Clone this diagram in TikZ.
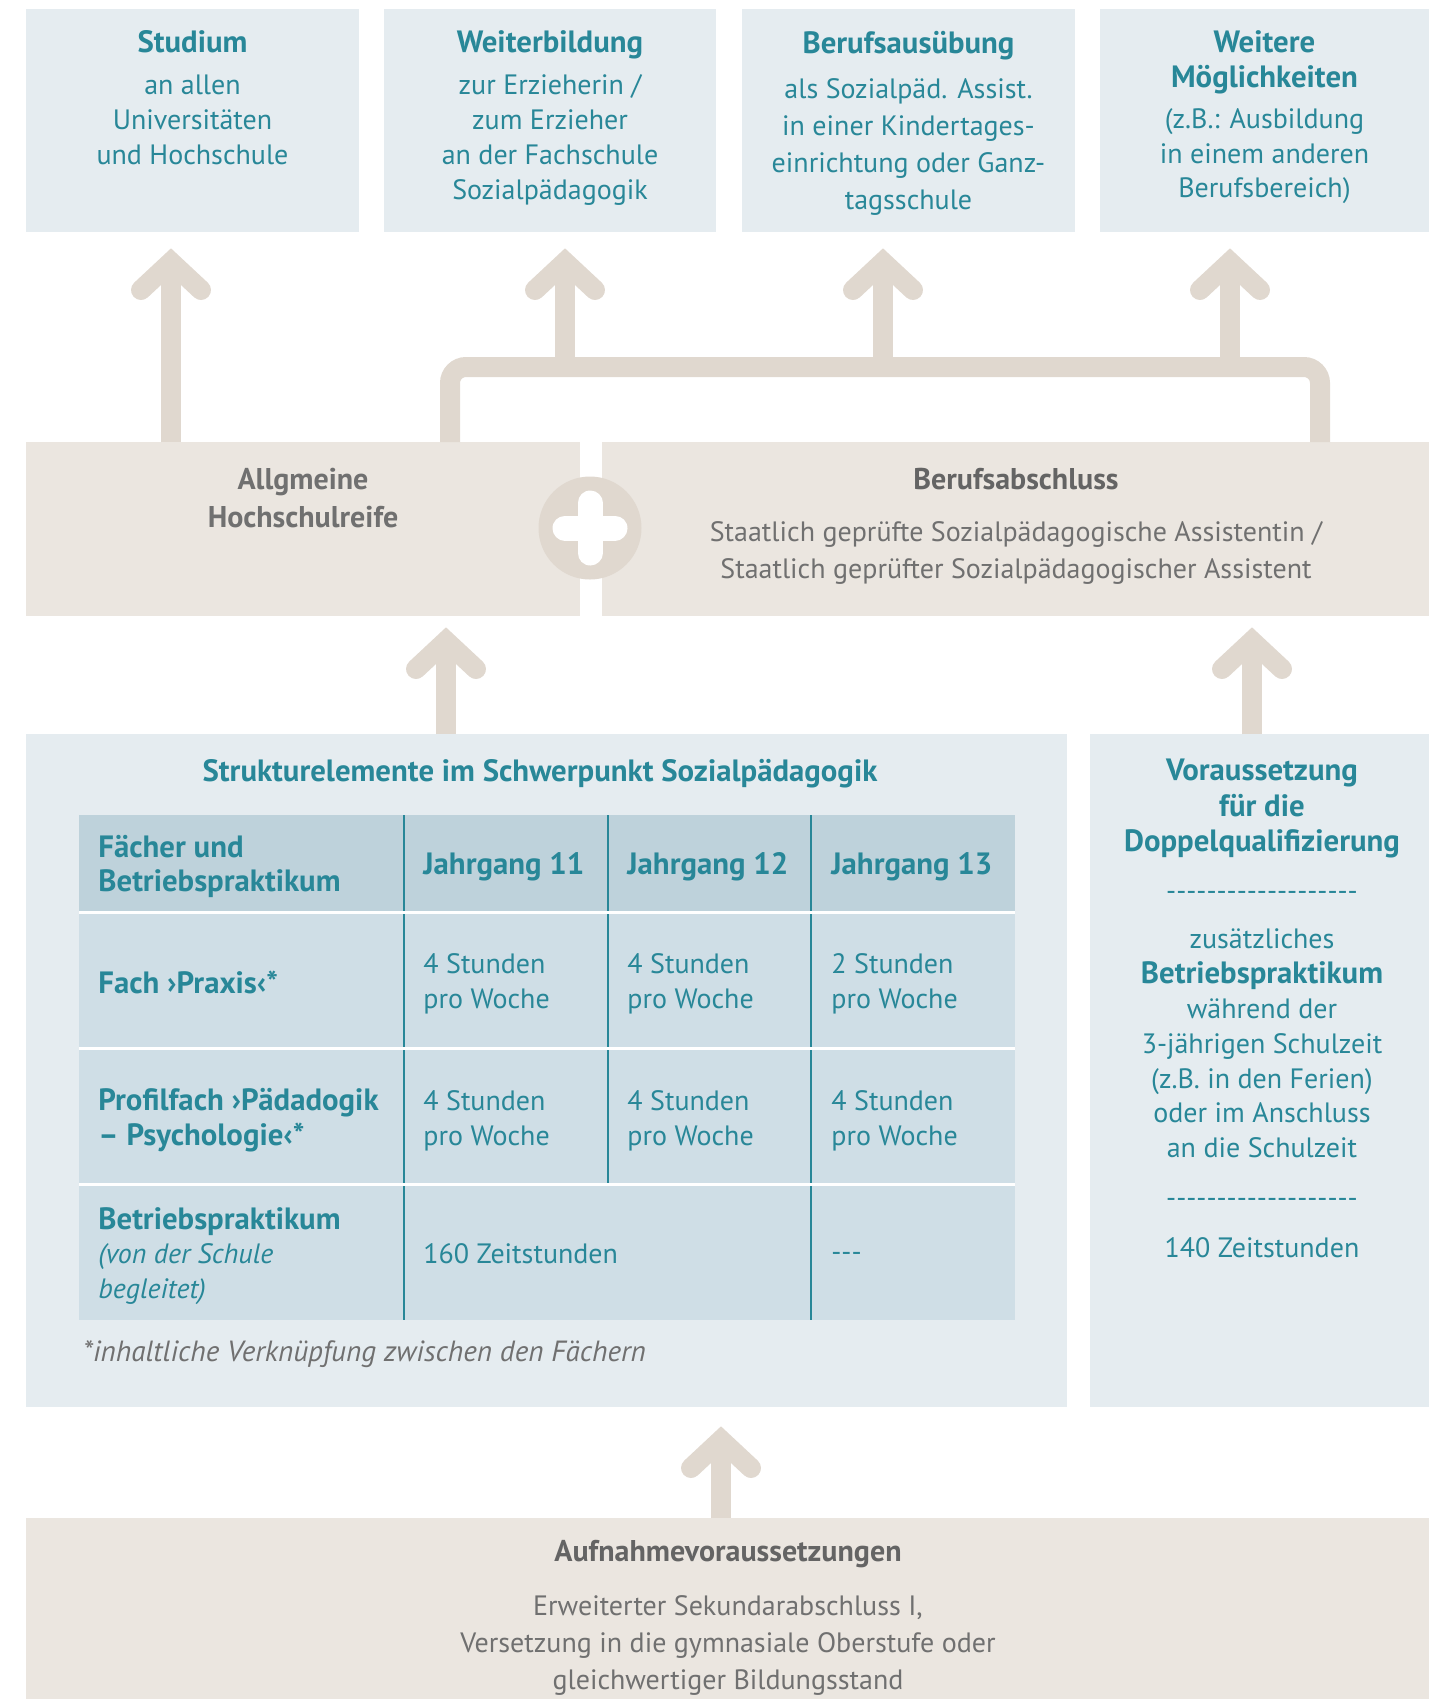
\documentclass[tikz,border=0pt]{standalone}
\usepackage{fontspec}
\setmainfont{PT Sans}
\usetikzlibrary{calc,arrows.meta,positioning,fit}

\definecolor{tealtx}{RGB}{40,135,152}
\definecolor{boxblue}{RGB}{229,236,240}
\definecolor{boxbeige}{RGB}{235,230,224}
\definecolor{arrowc}{RGB}{224,216,207}
\definecolor{headc}{RGB}{190,210,219}
\definecolor{cellc}{RGB}{207,222,230}
\definecolor{graytx}{RGB}{112,112,112}
\definecolor{graydk}{RGB}{100,100,100}

\newcommand{\setfs}[2]{\fontsize{#1}{#2}\selectfont}
\newcommand{\dashrow}[1]{\foreach \k in {1,...,#1}{-\kern0pt}}
\newcommand{\bigb}[1]{{\fontsize{15.4}{17.4}\selectfont\bfseries #1}}

\begin{document}
\begin{tikzpicture}[x=0.5pt,y=-0.5pt,
	bluebox/.style={rectangle,fill=boxblue,inner sep=0pt,outer sep=0pt},
	beigebox/.style={rectangle,fill=boxbeige,inner sep=0pt,outer sep=0pt},
	ttl/.style={text=tealtx,font=\setfs{15.4}{17.4}\bfseries,align=center,inner sep=0pt},
	txt/.style={text=tealtx,font=\setfs{14}{17.4},align=center,inner sep=0pt},
	grayttl/.style={text=graydk,font=\setfs{15}{19}\bfseries,align=center,inner sep=0pt},
	graytxt/.style={text=graytx,font=\setfs{14}{18.5},align=center,inner sep=0pt},
	cellt/.style={text=tealtx,anchor=west,align=left,inner sep=0pt,font=\setfs{14}{17.5}},
	cellb/.style={cellt,font=\setfs{15.4}{17}\bfseries},
	shaft/.style={arrowc,line width=10pt},
	chev/.pic={\draw[arrowc,line width=10pt,line cap=round,line join=miter] (-30,28) -- (0,0) -- (30,28);}]
	\useasboundingbox (0,0) rectangle (1429,1699);

	%%top row
	\node[bluebox,fit={(26,9)(359,232)}] (studium) {};
	\node[ttl] (studiumT) at (192.5,42) {Studium};
	\node[txt] (studiumB) at (192.5,120) {an allen\\Universitäten\\und Hochschule};

	\node[bluebox,fit={(384,9)(716,232)}] (weiter) {};
	\node[ttl] (weiterT) at (550,45.3) {Weiterbildung};
	\node[txt] (weiterB) at (550,139.8) {zur Erzieherin /\\zum Erzieher\\an der Fachschule\\Sozialpädagogik};

	\node[bluebox,fit={(742,9)(1075,232)}] (ausuebung) {};
	\node[ttl] (ausuebungT) at (908.5,45.3) {Berufsausübung};
	\node[txt,font=\setfs{14}{18.6}] (ausuebungB) at (908.5,146.8) {als Sozialpäd. Assist.\\in einer Kindertages-\\einrichtung oder Ganz-\\tagsschule};

	\node[bluebox,fit={(1100,9)(1429,232)}] (weitere) {};
	\node[ttl,font=\setfs{15.4}{17.5}\bfseries] (weitereT) at (1264.5,62.5) {Weitere\\Möglichkeiten};
	\node[txt] (weitereB) at (1264.5,156.2) {(z.B.: Ausbildung\\in einem anderen\\Berufsbereich)};

	%%middle row
	\node[beigebox,fit={(26,442)(580,616)}] (hsr) {};
	\node[grayttl,text=graytx] (hsrT) at (303,498) {Allgmeine\\Hochschulreife};

	\node[beigebox,fit={(602,442)(1429,616)}] (abschluss) {};
	\node[grayttl] (abschlussT) at (1016,479) {Berufsabschluss};
	\node[graytxt] (abschlussB) at (1016,553) {Staatlich geprüfte Sozialpädagogische Assistentin /\\Staatlich geprüfter Sozialpädagogischer Assistent};

	\node[circle,fill=arrowc,minimum size=51.5pt,inner sep=0pt] (plus) at (590,528) {};
	\draw[white,line width=12.5pt,line cap=round] ($(plus)+(-25,0)$) -- ($(plus)+(25,0)$) ($(plus)+(0,-25)$) -- ($(plus)+(0,25)$);

	%%connectors to the top row
	\coordinate (j1) at (171,367);
	\coordinate (j2) at (565,367);
	\coordinate (j3) at (883,367);
	\coordinate (j4) at (1230,367);
	\coordinate (bl) at (450,367);
	\coordinate (br) at (1320,367);
	\draw[shaft,rounded corners=8pt] (hsr.north -| bl) -- (bl) -- (br) -- (abschluss.north -| br);
	\coordinate (t1) at ($(studium.south -| j1)+(0,30)$);
	\coordinate (t2) at ($(weiter.south -| j2)+(0,30)$);
	\coordinate (t3) at ($(ausuebung.south -| j3)+(0,30)$);
	\coordinate (t4) at ($(weitere.south -| j4)+(0,30)$);
	\draw[shaft] (hsr.north -| j1) -- (t1);
	\draw[shaft] (j2) -- (t2);
	\draw[shaft] (j3) -- (t3);
	\draw[shaft] (j4) -- (t4);
	\foreach \t in {t1,t2,t3,t4} \pic at (\t) {chev};

	%%lower left box with table
	\node[bluebox,fit={(26,734)(1067,1407)}] (struktur) {};
	\node[ttl] (strukturT) at (540,773.3) {Strukturelemente im Schwerpunkt Sozialpädagogik};

	\fill[cellc] (79,815) rectangle (1015,1320);
	\fill[headc] (79,815) rectangle (1015,912);
	\draw[tealtx,line width=0.75pt] (404,815) -- (404,1320) (608,815) -- (608,1185) (811,815) -- (811,1320);
	\draw[white,line width=1.5pt] (79,912.5) -- (1015,912.5) (79,1048.5) -- (1015,1048.5) (79,1184.5) -- (1015,1184.5);

	\node[cellb] (h1) at (98,866) {Fächer und\\Betriebspraktikum};
	\node[cellb] (h2) at (423,867) {Jahrgang 11};
	\node[cellb] (h3) at (627,867) {Jahrgang 12};
	\node[cellb] (h4) at (831,867) {Jahrgang 13};

	\node[cellb] (r1a) at (98,982) {Fach ›Praxis‹*};
	\node[cellt] (r1b) at (423,984) {4 Stunden\\pro Woche};
	\node[cellt] (r1c) at (627,984) {4 Stunden\\pro Woche};
	\node[cellt] (r1d) at (831,984) {2 Stunden\\pro Woche};

	\node[cellb,font=\setfs{15.4}{17.5}\bfseries] (r2a) at (98,1120) {Profilfach ›Pädadogik\\– Psychologie‹*};
	\node[cellt] (r2b) at (423,1120.5) {4 Stunden\\pro Woche};
	\node[cellt] (r2c) at (627,1120.5) {4 Stunden\\pro Woche};
	\node[cellt] (r2d) at (831,1120.5) {4 Stunden\\pro Woche};

	\node[cellt,font=\setfs{14}{17.25}] (r3a) at (98,1256) {\bigb{Betriebspraktikum}\\{\itshape (von der Schule}\\{\itshape begleitet)}};
	\node[cellt] (r3b) at (423,1254) {160 Zeitstunden};
	\node[cellt] (r3d) at (831,1257) {\dashrow{3}};

	\node[anchor=west,inner sep=0pt,text=graytx,font=\setfs{14.6}{17}\itshape] (fn) at (83,1354) {*inhaltliche Verknüpfung zwischen den Fächern};

	%%lower right box
	\node[bluebox,fit={(1090,734)(1429,1407)}] (voraus) {};
	\node[ttl,font=\setfs{15.4}{17.75}\bfseries] (vorausT) at (1262,808.8) {Voraussetzung\\für die\\Doppelqualifizierung};
	\node[txt] (dash1) at (1262,896) {\dashrow{19}};
	\node[txt] (vorausB) at (1262,1043.5) {zusätzliches\\\bigb{Betriebspraktikum}\\während der\\3-jährigen Schulzeit\\(z.B. in den Ferien)\\oder im Anschluss\\an die Schulzeit};
	\node[txt] (dash2) at (1262,1203) {\dashrow{19}};
	\node[txt] (vorausC) at (1262,1248) {140 Zeitstunden};

	%%bottom box
	\node[beigebox,fit={(26,1518)(1429,1699)}] (aufnahme) {};
	\node[grayttl] (aufnahmeT) at (728,1554) {Aufnahmevoraussetzungen};
	\node[graytxt] (aufnahmeB) at (728,1645.3) {Erweiterter Sekundarabschluss I,\\Versetzung in die gymnasiale Oberstufe oder\\gleichwertiger Bildungsstand};

	%%connectors from below
	\coordinate (j5) at (446,0);
	\coordinate (j6) at (1252,0);
	\coordinate (j7) at (721,0);
	\coordinate (t5) at ($(hsr.south -| j5)+(0,25)$);
	\coordinate (t6) at ($(abschluss.south -| j6)+(0,25)$);
	\coordinate (t7) at ($(struktur.south -| j7)+(0,33)$);
	\draw[shaft] (struktur.north -| j5) -- (t5);
	\draw[shaft] (voraus.north -| j6) -- (t6);
	\draw[shaft] (aufnahme.north -| j7) -- (t7);
	\foreach \t in {t5,t6,t7} \pic at (\t) {chev};
\end{tikzpicture}
\end{document}
